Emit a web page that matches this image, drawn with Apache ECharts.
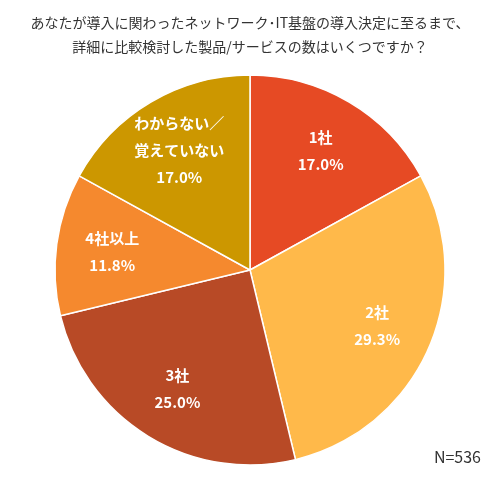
<!DOCTYPE html>
<html><head><meta charset="utf-8">
<script src="https://cdn.jsdelivr.net/npm/echarts@6/dist/echarts.min.js"></script>
<style>html,body{margin:0;padding:0;background:#fff}#c{width:500px;height:481px}</style>
</head><body><div id="c"></div>
<script>
const categories = ['1社','2社','3社','4社以上','わからない／\n覚えていない'];
const values = [17.0, 29.3, 25.0, 11.8, 17.0];
const colors = ['#E64A24','#FFB94A','#B84A26','#F5892E','#CC9700'];
const data = categories.map((n,i)=>({name:n,value:values[i],itemStyle:{color:colors[i]}}));
const chart = echarts.init(document.getElementById('c'));
const font = '"Noto Sans CJK JP", "Noto Sans", sans-serif';
chart.setOption({
  animation:false,
  title:[{text:'あなたが導入に関わったネットワーク･IT基盤の導入決定に至るまで、\n詳細に比較検討した製品/サービスの数はいくつですか？',
    left:'center',top:6,textStyle:{fontSize:14,fontWeight:'normal',color:'#333',lineHeight:24,fontFamily:font}},
    {text:'N=536',right:14,top:444,textStyle:{fontSize:16,fontWeight:'normal',color:'#333',fontFamily:font}}],
  series:[
    {type:'pie',center:[250,270],radius:[0,195],startAngle:90,clockwise:true,
     data:data,label:{show:false},labelLine:{show:false},
     itemStyle:{borderColor:'#fff',borderWidth:1.5},silent:true},
    {type:'pie',center:[250,270],radius:[0,272],startAngle:90,clockwise:true,silent:true,
     data:categories.map((n,i)=>({name:n,value:values[i]})),
     itemStyle:{color:'transparent'},labelLine:{show:false},
     label:{show:true,position:'inside',color:'#fff',fontSize:15,fontWeight:'bold',lineHeight:27,fontFamily:font,
       formatter:p=>p.name+'\n'+p.value.toFixed(1)+'%'}}
  ]
});
</script></body></html>
